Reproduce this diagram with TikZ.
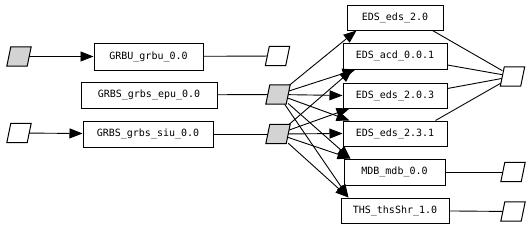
\documentclass[tikz,border=0pt]{standalone}
\usepackage{fontspec}
\setmonofont{DejaVu Sans Mono}
\usetikzlibrary{arrows.meta,calc}
\definecolor{gvgrey}{RGB}{211,211,211}
\tikzset{
  box/.style={draw,line width=1pt,fill=white,inner sep=0pt,font=\ttfamily\fontsize{10}{12}\selectfont},
  para/.style={inner sep=0pt,minimum width=20pt,minimum height=19pt},
  paraline/.style={draw,line width=1pt,line join=miter},
  arr/.style={line width=0.9pt,-{Triangle[length=13pt,width=10pt]}},
  ln/.style={line width=0.9pt},
}
\begin{document}
\begin{tikzpicture}[x=1pt,y=-1pt]
\useasboundingbox (0,0) rectangle (530,228);
% boxes
\node[box,minimum width=109pt,minimum height=27pt] (grbu) at (148.5,56.5) {GRBU\_grbu\_0.0};
\node[box,minimum width=136pt,minimum height=26pt] (epu) at (149,95) {GRBS\_grbs\_epu\_0.0};
\node[box,minimum width=130pt,minimum height=26pt] (siu) at (148,134) {GRBS\_grbs\_siu\_0.0};
\node[box,minimum width=96pt,minimum height=25pt] (eds20) at (395,17.5) {EDS\_eds\_2.0};
\node[box,minimum width=104pt,minimum height=26pt] (acd) at (395,56) {EDS\_acd\_0.0.1};
\node[box,minimum width=104pt,minimum height=25pt] (eds203) at (395,95.5) {EDS\_eds\_2.0.3};
\node[box,minimum width=104pt,minimum height=25pt] (eds231) at (395,133.5) {EDS\_eds\_2.3.1};
\node[box,minimum width=101pt,minimum height=26pt] (mdb) at (394.5,172) {MDB\_mdb\_0.0};
\node[box,minimum width=108pt,minimum height=25pt] (ths) at (395,210.5) {THS\_thsShr\_1.0};
% parallelogram nodes
\node[para] (in1) at (19,56.5) {};
\node[para] (out1) at (277.5,56) {};
\node[para] (pg2) at (278,94.5) {};
\node[para] (in3) at (19,133) {};
\node[para] (pg3) at (278,134) {};
\node[para] (pj) at (512.5,76.5) {};
\node[para] (outm) at (513,172) {};
\node[para] (outt) at (513,211.5) {};
% left edges
\draw[arr] (in1) -- (grbu);
\draw[ln] (grbu) -- (out1);
\draw[ln] (epu) -- (pg2);
\draw[arr] (in3) -- (siu);
\draw[ln] (siu) -- (pg3);
% fan out
\draw[arr] (pg2) -- ($(eds20.south west)+(10,0)$);
\draw[arr] (pg2) -- ($(acd.south west)+(13,0)$);
\draw[arr] (pg3) -- ($(acd.south west)+(10,0)$);
\draw[arr] (pg2) -- (eds203.west);
\draw[arr] (pg3) -- ($(eds203.south west)+(7,0)$);
\draw[arr] (pg2) -- ($(eds231.north west)+(7,0)$);
\draw[arr] (pg3) -- (eds231.west);
\draw[arr] (pg2) -- ($(mdb.north west)+(7,0)$);
\draw[arr] (pg3) -- ($(mdb.north west)+(7,0)$);
\draw[arr] (pg2) -- ($(ths.north west)+(8,0)$);
\draw[arr] (pg3) -- ($(ths.north west)+(8,0)$);
% fan in
\draw[ln] ($(eds20.south east)+(-11,0)$) -- (pj);
\draw[ln] ($(acd.east)+(0,9)$) -- (pj);
\draw[ln] ($(eds203.east)+(0,-7)$) -- (pj);
\draw[ln] ($(eds231.north east)+(-12,0)$) -- (pj);
\draw[ln] (mdb) -- (outm);
\draw[ln] (ths) -- (outt);
% parallelogram outlines
\foreach \n/\c in {in1/gvgrey,out1/white,pg2/gvgrey,in3/white,pg3/gvgrey,pj/white,outm/white,outt/white}
  \filldraw[paraline,fill=\c] ($(\n.south west)+(-2,0)$) -- ($(\n.north west)+(2,0)$)
    -- ($(\n.north east)+(2,0)$) -- ($(\n.south east)+(-2,0)$) -- cycle;
\end{tikzpicture}
\end{document}
